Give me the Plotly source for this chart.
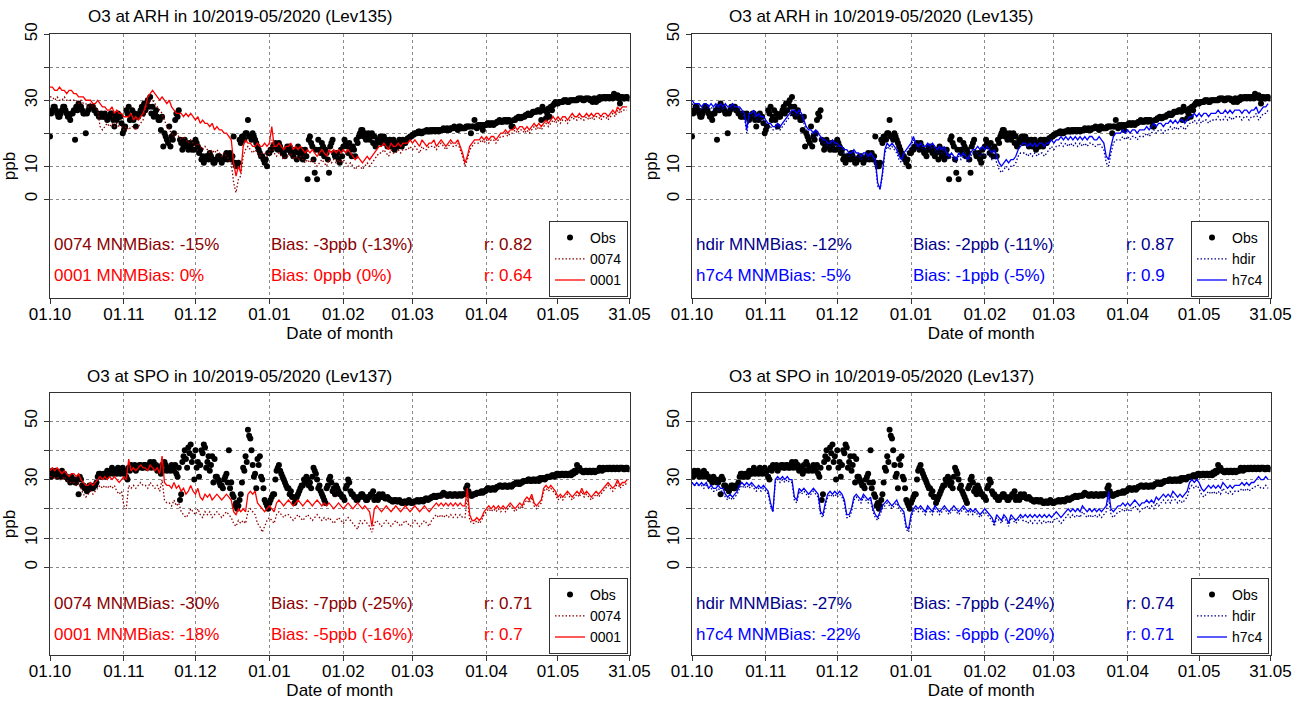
import plotly.graph_objects as go
import pandas as pd

# ---------------- data (daily values, 01.10.2019 .. 30.05.2020) ----------------
start_date = "2019-10-01"
n_days = 243
tick_dates = ["2019-10-01", "2019-11-01", "2019-12-01", "2020-01-01", "2020-02-01",
              "2020-03-01", "2020-04-01", "2020-05-01", "2020-05-31"]
tick_labels = ["01.10", "01.11", "01.12", "01.01", "01.02", "01.03", "01.04", "01.05", "31.05"]

# ARH observations (00 and 12 UTC)
arh_obs00 = [19, 27, 28, 26, 25, 27, 28, 26, 25, 26,
             27, 28, 29, 28, 26, 20, 27, 28, 28, 27,
             26, 25, 25, 26, 24, 25, 26, 22, 24, 25,
             23, 21, 27, 28, 25, 24, 22, 25, 27, 26,
             27, 30, 31, 28, 26, 25, 24, 25, 20, 18,
             22, 19, 20, 26, 27, 17, 16, 17, 15, 16,
             17, 18, 16, 15, 13, 12, 13, 14, 12, 11,
             12, 13, 11, 12, 14, 13, 12, 19, 10, 11,
             17, 19, 20, 24, 19, 20, 18, 16, 14, 13,
             11, 10, 14, 15, 16, 16, 17, 15, 14, 15,
             15, 14, 13, 15, 16, 13, 12, 15, 6, 19,
             16, 8, 6, 15, 17, 13, 14, 8, 17, 14,
             13, 12, 15, 16, 17, 14, 15, 16, 13, 17,
             20, 21, 20, 19, 18, 20, 19, 17, 18, 17,
             19, 18, 17, 16, 18, 17, 16, 17, 18, 17,
             18.5, 19, 19.5, 20, 20, 20.5, 20, 20.5, 21, 20.5,
             20.5, 21, 21, 20.5, 21, 21.5, 21, 21, 21.5, 21.5,
             21.5, 21, 22, 21.5, 21.5, 22, 22, 22, 24, 21.5,
             22, 22.5, 22.5, 22.5, 23, 23, 22.5, 23, 23.5, 23.5,
             23.5, 24, 24, 23.5, 22, 24, 24.5, 24.5, 25, 25,
             25.5, 25.5, 26, 26.5, 26.5, 27, 24, 27, 24.5, 27.5,
             28, 28.5, 29.5, 29, 29.5, 29.5, 30, 29.5, 30, 30,
             30, 30, 30.5, 30.5, 30, 30.5, 30.5, 30, 30.5, 29.5,
             30, 30.5, 31, 30.5, 31, 31, 30.5, 31, 31.5, 29,
             31, 30.5, 31]
arh_obs12 = [26, 28, 27, 25, 26, 28, 27, 25, 24, 26,
             18, 27, 28, 27, 26, 26, 28, 28, 27, 26,
             25, 26, 25, 25, 25, 26, 24, 25, 26, 25,
             20, 22, 26, 24, 27, 26, 25, 26, 28, 29,
             29, 28, 26, 25, 27, 24, 21, 16, 19, 17,
             16, 18, 24, 25, 18, 15, 18, 16, 17, 15,
             15, 17, 14, 12, 11, 13, 12, 13, 11, 12,
             13, 12, 12, 13, 12, 14, 13, 11, 10, 18,
             19, 18, 20, 19, 18, 19, 17, 15, 13, 12,
             12, 14, 15, 16, 17, 15, 16, 14, 13, 16,
             16, 15, 14, 12, 14, 15, 14, 13, 18, 17,
             12, 15, 18, 14, 16, 15, 12, 16, 18, 13,
             14, 11, 13, 18, 16, 17, 13, 15, 18, 19,
             21, 19, 18, 20, 19, 17, 16, 18, 19, 18,
             17, 16, 18, 17, 15, 16, 18, 16, 17, 18,
             18.5, 19, 19.5, 20, 20.5, 20, 20.5, 20.5, 20.5, 21,
             21, 20.5, 21, 21, 21, 21, 21.5, 21, 21.5, 22,
             21.5, 22, 21.5, 21.5, 22, 22, 20, 22, 22, 22.5,
             22.5, 21, 22.5, 23, 22.5, 23, 23, 23.5, 24, 23.5,
             24, 23.5, 24, 22, 24, 24.5, 25, 24.5, 25, 25.5,
             26, 25.5, 26.5, 26.5, 27, 26.5, 28, 27, 26, 25,
             27, 29, 29, 29.5, 29.5, 30, 30, 29.5, 30, 30,
             30, 30.5, 30.5, 30, 30.5, 30.5, 30, 29.5, 30.5, 30.5,
             31, 30.5, 31, 31, 30.5, 31, 32, 31, 30.5, 31,
             30.5, 31, 30.5]

arh_0001 = [34, 34, 33, 33, 34, 33, 33, 32, 33, 33,
            32, 32, 31, 31, 31, 30, 30, 30, 29, 29,
            30, 29, 28, 28, 27, 27, 28, 26, 27, 26,
            26, 25, 25, 25, 26, 24, 25, 24, 25, 26,
            28, 31, 32, 33, 32, 31, 30, 31, 30, 29,
            30, 28, 27, 26, 26, 26, 25, 26, 25, 26,
            25, 24, 25, 23, 24, 23, 23, 22, 23, 21,
            22, 21, 21, 20, 20, 19, 18, 11, 7, 10,
            8, 16, 18, 17, 17, 16, 16, 17, 16, 16,
            17, 16, 17, 22, 16, 16, 17, 16, 15, 16,
            16, 17, 15, 16, 15, 16, 15, 14, 15, 14,
            15, 14, 13, 14, 15, 14, 13, 15, 14, 15,
            14, 15, 14, 15, 14, 15, 14, 13, 12, 13,
            12, 11, 12, 13, 12, 13, 14, 15, 16, 16,
            17, 16, 15, 17, 16, 16, 17, 16, 17, 17,
            17, 18, 17, 18, 17, 16, 18, 17, 16, 17,
            17, 18, 16, 17, 18, 17, 16, 17, 18, 17,
            17, 18, 16, 14, 11, 13, 16, 17, 18, 18,
            18, 19, 18, 19, 18, 19, 19, 18, 19, 20,
            20, 21, 20, 21, 21, 22, 21, 22, 22, 21,
            22, 21, 22, 23, 22, 23, 22, 23, 24, 23,
            24, 25, 24, 25, 24, 25, 25, 24, 25, 26,
            25, 25, 26, 25, 25, 26, 25, 26, 25, 26,
            26, 25, 26, 26, 25, 26, 27, 26, 28, 27,
            28, 28, 28]
arh_0074 = [31, 31, 30, 31, 30, 30, 31, 30, 30, 30,
            30, 30, 29, 30, 29, 29, 28, 29, 28, 28,
            27, 22, 21, 22, 23, 22, 23, 22, 23, 22,
            22, 21, 22, 21, 22, 22, 21, 22, 23, 24,
            27, 29, 30, 30, 29, 28, 27, 26, 24, 22,
            21, 20, 19, 20, 19, 18, 19, 18, 17, 18,
            17, 16, 17, 16, 15, 16, 15, 14, 15, 14,
            15, 14, 13, 14, 13, 12, 11, 5, 2, 6,
            7, 13, 15, 16, 15, 14, 15, 14, 13, 14,
            14, 13, 14, 18, 14, 13, 14, 13, 12, 13,
            13, 14, 12, 13, 12, 13, 12, 11, 12, 11,
            12, 11, 10, 11, 12, 11, 10, 12, 11, 12,
            11, 12, 11, 12, 11, 10, 11, 10, 9, 10,
            10, 9, 10, 11, 10, 11, 12, 13, 14, 14,
            15, 14, 13, 15, 14, 14, 15, 14, 15, 15,
            15, 16, 15, 16, 15, 14, 16, 15, 15, 16,
            16, 16, 15, 16, 17, 16, 15, 16, 17, 16,
            16, 17, 15, 13, 10, 12, 15, 16, 17, 17,
            17, 18, 17, 18, 17, 18, 18, 17, 18, 19,
            19, 20, 19, 20, 20, 21, 20, 21, 21, 20,
            21, 20, 21, 22, 21, 22, 21, 22, 23, 22,
            23, 24, 23, 24, 23, 24, 24, 23, 24, 25,
            24, 24, 25, 24, 24, 25, 24, 25, 24, 25,
            25, 24, 25, 25, 24, 25, 26, 25, 27, 26,
            27, 27, 27]
arh_h7c4 = [30, 29, 29, 29, 28, 29, 29, 28, 29, 28,
            29, 28, 29, 28, 29, 28, 28, 29, 28, 28,
            28, 27, 26, 21, 26, 26, 27, 25, 26, 25,
            25, 24, 23, 23, 22, 22, 23, 22, 23, 24,
            25, 26, 27, 27, 26, 27, 26, 24, 22, 21,
            21, 20, 21, 20, 19, 18, 18, 17, 17, 18,
            17, 17, 16, 16, 15, 15, 14, 14, 15, 14,
            14, 13, 14, 14, 13, 14, 13, 12, 5, 3,
            8, 15, 17, 16, 17, 16, 15, 13, 12, 14,
            15, 16, 17, 19, 17, 16, 17, 16, 16, 17,
            16, 17, 16, 15, 16, 15, 16, 14, 13, 14,
            13, 12, 14, 13, 14, 13, 12, 14, 15, 15,
            16, 15, 16, 15, 16, 15, 14, 15, 13, 11,
            10, 11, 12, 11, 12, 12, 13, 15, 16, 17,
            17, 16, 17, 16, 17, 16, 17, 17, 16, 17,
            17, 18, 17, 18, 18, 19, 18, 19, 18, 19,
            18, 19, 18, 19, 18, 19, 18, 19, 19, 18,
            18, 19, 18, 17, 13, 12, 16, 19, 20, 20,
            20, 21, 20, 21, 20, 21, 21, 20, 21, 21,
            21, 22, 21, 22, 23, 22, 23, 23, 22, 23,
            23, 24, 23, 24, 23, 24, 24, 23, 24, 25,
            25, 26, 25, 26, 25, 26, 26, 25, 26, 26,
            26, 27, 26, 26, 27, 26, 27, 26, 27, 27,
            27, 26, 27, 27, 26, 27, 27, 28, 26, 27,
            28, 28, 29]
arh_hdir = [29, 28, 28, 28, 27, 28, 28, 27, 28, 27,
            28, 27, 28, 27, 28, 27, 27, 28, 27, 27,
            27, 26, 25, 20, 25, 25, 26, 24, 25, 24,
            24, 23, 22, 22, 21, 21, 22, 21, 22, 23,
            24, 25, 26, 26, 25, 26, 25, 23, 21, 20,
            20, 19, 20, 19, 18, 17, 17, 16, 16, 17,
            16, 16, 15, 15, 14, 14, 13, 13, 14, 13,
            13, 12, 13, 13, 12, 13, 12, 11, 4, 3,
            7, 14, 16, 15, 16, 15, 14, 12, 11, 13,
            14, 15, 16, 18, 16, 15, 16, 15, 15, 16,
            15, 16, 15, 14, 15, 14, 15, 13, 12, 13,
            12, 11, 13, 12, 13, 12, 11, 13, 14, 14,
            14, 13, 14, 13, 14, 13, 12, 13, 11, 9,
            8, 9, 10, 9, 10, 10, 11, 13, 14, 14,
            14, 13, 14, 13, 14, 13, 14, 14, 13, 14,
            15, 16, 15, 16, 16, 17, 16, 17, 16, 17,
            16, 17, 16, 17, 16, 17, 16, 17, 17, 16,
            16, 17, 16, 15, 11, 10, 14, 17, 18, 18,
            18, 19, 18, 19, 18, 19, 19, 18, 19, 19,
            19, 20, 19, 20, 21, 20, 21, 21, 20, 21,
            21, 22, 21, 22, 21, 22, 22, 21, 22, 23,
            23, 24, 23, 24, 23, 24, 24, 23, 24, 24,
            24, 25, 24, 24, 25, 24, 25, 24, 25, 25,
            25, 24, 25, 25, 24, 25, 25, 26, 24, 25,
            26, 26, 27]

# SPO observations (00 and 12 UTC)
spo_obs00 = [32, 33, 32, 31, 32, 33, 32, 31, 30, 31,
             30, 29, 25, 30, 28, 27, 27, 28, 27, 28,
             31, 32, 31, 32, 33, 32, 34, 33, 32, 33,
             33, 32, 31, 34, 35, 34, 33, 34, 35, 34,
             35, 34, 36, 35, 34, 33, 34, 35, 36, 33,
             34, 35, 33, 32, 34, 25, 38, 37, 41, 42,
             38, 40, 36, 35, 39, 41, 36, 33, 38, 37,
             31, 29, 28, 30, 32, 40, 29, 24, 22, 21,
             25, 34, 38, 47, 44, 35, 32, 37, 38, 30,
             23, 21, 22, 24, 25, 33, 35, 32, 30, 28,
             27, 26, 24, 23, 25, 27, 28, 29, 30, 29,
             31, 33, 30, 28, 25, 23, 27, 30, 29, 27,
             28, 26, 25, 24, 27, 30, 26, 25, 24, 23,
             24, 25, 24, 23, 24, 25, 23, 24, 25, 24,
             24, 23.5, 23.5, 23, 22.5, 23, 22.5, 22.5, 22, 22.5,
             22.5, 22.5, 22, 22.5, 23, 22.5, 23, 23, 23.5, 23.5,
             24, 24.5, 24, 24.5, 24.5, 25.5, 25, 24.5, 25, 24.5,
             25, 24.5, 25, 25, 25, 28, 25, 24.5, 25, 25.5,
             25.5, 26, 26, 26.5, 27, 26.5, 27, 27, 27.5, 28,
             27.5, 28, 27.5, 28, 28, 28.5, 29, 28.5, 29, 29.5,
             29.5, 30, 29.5, 30, 30, 29.5, 30, 30.5, 30.5, 31,
             31, 31.5, 31.5, 32, 31.5, 32, 32, 31.5, 32, 32.5,
             33, 35, 34, 33, 32.5, 33, 33, 32.5, 33, 33,
             33, 33.5, 34, 33.5, 33.5, 34, 34, 33.5, 34, 34,
             34, 33.5, 34]
spo_obs12 = [31, 32, 33, 32, 31, 32, 31, 30, 29, 30,
             29, 30, 31, 28, 27, 26, 28, 27, 28, 29,
             32, 31, 32, 31, 32, 33, 32, 33, 34, 32,
             34, 33, 30, 33, 34, 35, 34, 35, 34, 35,
             34, 35, 34, 36, 35, 34, 32, 33, 35, 34,
             33, 34, 35, 31, 23, 36, 40, 34, 39, 36,
             30, 34, 31, 40, 42, 34, 38, 35, 29, 31,
             30, 28, 27, 31, 29, 27, 25, 21, 20, 23,
             29, 33, 36, 45, 40, 31, 27, 35, 31, 27,
             22, 20, 23, 25, 30, 34, 33, 31, 29, 27,
             25, 24, 22, 24, 26, 28, 30, 31, 28, 27,
             34, 32, 27, 26, 24, 22, 28, 31, 26, 25,
             27, 25, 24, 23, 28, 29, 25, 24, 23, 24,
             25, 24, 23, 24, 25, 26, 24, 23, 24, 25,
             23.5, 24, 23, 22.5, 23, 22.5, 23, 22, 22.5, 22,
             23, 22, 22.5, 22.5, 22.5, 23, 22.5, 23.5, 23, 23.5,
             24, 24, 24.5, 24.5, 25, 25, 24.5, 25, 24.5, 25,
             24.5, 25, 24.5, 25, 27, 26, 24.5, 25, 25, 25.5,
             25.5, 25.5, 26, 27, 26.5, 27, 26.5, 27.5, 28, 27.5,
             28, 27.5, 28, 27.5, 28.5, 29, 28.5, 29, 29.5, 29.5,
             30, 29.5, 30, 29.5, 30, 30.5, 30.5, 30, 31, 31,
             31.5, 31, 32, 31.5, 32, 31.5, 32, 32, 31.5, 32,
             32.5, 34, 33, 32.5, 33, 32.5, 33, 33, 32.5, 33,
             34, 33, 33.5, 34, 34, 33.5, 34, 34, 33.5, 34,
             33.5, 34, 33.5]

spo_0001 = [33, 34, 33, 34, 33, 32, 33, 32, 31, 32,
            32, 31, 32, 30, 29, 28, 28, 29, 28, 29,
            30, 31, 30, 31, 30, 31, 30, 31, 30, 29,
            30, 31, 30, 37, 33, 34, 33, 34, 35, 34,
            34, 33, 35, 34, 33, 34, 32, 38, 29, 28,
            28, 27, 29, 27, 28, 26, 27, 25, 26, 28,
            26, 25, 27, 24, 23, 25, 24, 25, 23, 24,
            25, 24, 23, 24, 25, 24, 23, 19, 18, 20,
            19, 20, 19, 25, 26, 25, 26, 22, 21, 20,
            19, 20, 21, 20, 19, 22, 23, 22, 21, 22,
            23, 22, 21, 22, 23, 22, 21, 22, 23, 22,
            21, 22, 23, 22, 21, 22, 21, 22, 21, 20,
            21, 22, 21, 20, 21, 22, 21, 20, 21, 22,
            21, 20, 21, 20, 19, 14, 20, 21, 20, 19,
            20, 21, 20, 19, 20, 21, 20, 19, 20, 21,
            20, 19, 20, 21, 20, 19, 20, 21, 20, 19,
            20, 21, 22, 21, 22, 21, 22, 21, 22, 21,
            22, 21, 22, 21, 21, 27, 18, 16, 16, 17,
            16, 17, 19, 20, 21, 20, 21, 20, 21, 20,
            21, 20, 21, 22, 21, 20, 21, 22, 21, 23,
            24, 23, 25, 22, 21, 22, 23, 27, 28, 27,
            28, 27, 26, 24, 25, 24, 25, 26, 25, 24,
            25, 26, 25, 27, 25, 26, 25, 24, 25, 26,
            25, 26, 27, 28, 29, 28, 27, 28, 30, 28,
            29, 29, 30]
spo_0074 = [31, 31, 30, 31, 30, 30, 31, 30, 29, 29,
            29, 28, 29, 27, 25, 24, 25, 26, 25, 26,
            27, 28, 27, 28, 27, 28, 27, 28, 26, 25,
            26, 21, 20, 28, 27, 28, 27, 28, 29, 28,
            28, 27, 29, 28, 27, 28, 26, 30, 23, 22,
            22, 21, 23, 21, 22, 19, 18, 17, 18, 20,
            19, 18, 20, 18, 17, 19, 18, 19, 17, 18,
            19, 18, 17, 18, 19, 18, 17, 15, 14, 16,
            15, 16, 15, 19, 20, 19, 18, 15, 14, 12,
            14, 16, 17, 16, 15, 18, 19, 18, 17, 18,
            18, 17, 16, 17, 18, 17, 16, 17, 18, 17,
            16, 17, 18, 17, 16, 17, 16, 17, 16, 15,
            16, 17, 16, 15, 16, 17, 16, 15, 14, 13,
            16, 15, 16, 15, 14, 12, 15, 16, 15, 14,
            15, 16, 15, 14, 15, 16, 15, 14, 15, 16,
            15, 14, 15, 16, 15, 14, 15, 16, 15, 14,
            16, 17, 18, 17, 18, 17, 18, 17, 18, 17,
            18, 17, 18, 17, 17, 24, 16, 15, 15, 16,
            15, 16, 18, 19, 20, 19, 20, 19, 20, 19,
            20, 19, 20, 21, 20, 19, 20, 21, 20, 22,
            23, 22, 24, 21, 20, 21, 22, 26, 27, 26,
            27, 26, 25, 23, 24, 23, 24, 25, 24, 23,
            24, 25, 24, 26, 24, 25, 24, 23, 24, 25,
            24, 25, 26, 27, 28, 27, 26, 27, 29, 27,
            28, 28, 29]
spo_h7c4 = [29, 28, 29, 28, 29, 28, 29, 27, 28, 27,
            27, 28, 27, 27, 25, 24, 25, 24, 25, 26,
            28, 29, 28, 29, 28, 29, 28, 27, 28, 27,
            28, 27, 26, 22, 19, 30, 31, 30, 31, 30,
            31, 30, 30, 24, 23, 27, 26, 27, 26, 25,
            26, 27, 26, 25, 19, 18, 22, 25, 26, 25,
            26, 25, 26, 25, 23, 18, 18, 20, 24, 25,
            24, 23, 25, 24, 23, 24, 20, 18, 17, 19,
            21, 22, 23, 22, 21, 22, 23, 21, 20, 19,
            14, 13, 18, 20, 21, 20, 21, 20, 19, 21,
            20, 19, 21, 20, 19, 20, 21, 20, 19, 20,
            21, 20, 19, 20, 21, 20, 19, 20, 19, 20,
            19, 18, 19, 20, 19, 18, 17, 15, 18, 17,
            16, 18, 17, 15, 18, 17, 16, 17, 18, 17,
            18, 17, 18, 17, 18, 17, 18, 17, 18, 17,
            18, 17, 18, 19, 18, 17, 18, 19, 20, 19,
            20, 19, 20, 19, 21, 20, 19, 20, 19, 20,
            19, 20, 19, 20, 21, 26, 20, 19, 20, 21,
            21, 22, 21, 22, 21, 22, 23, 22, 21, 22,
            22, 23, 22, 23, 22, 24, 23, 24, 25, 24,
            25, 24, 26, 25, 24, 25, 24, 25, 26, 29,
            30, 29, 30, 29, 27, 26, 27, 28, 27, 28,
            27, 28, 27, 29, 28, 27, 28, 27, 28, 28,
            28, 29, 28, 29, 28, 29, 29, 30, 31, 30,
            30, 31, 30]
spo_hdir = [29, 28, 28, 28, 28, 27, 28, 27, 27, 26,
            26, 27, 26, 26, 24, 23, 24, 23, 24, 25,
            27, 28, 27, 28, 27, 28, 27, 26, 27, 26,
            27, 26, 25, 21, 19, 29, 30, 29, 30, 29,
            30, 29, 29, 23, 22, 26, 25, 26, 25, 24,
            25, 26, 25, 24, 18, 17, 21, 24, 25, 24,
            25, 24, 25, 24, 22, 17, 17, 19, 23, 24,
            23, 22, 24, 23, 22, 23, 19, 17, 16, 18,
            20, 21, 22, 21, 20, 21, 22, 20, 19, 18,
            13, 12, 17, 19, 20, 19, 20, 19, 18, 20,
            19, 18, 20, 19, 18, 19, 20, 19, 18, 19,
            20, 19, 18, 19, 20, 19, 18, 19, 18, 19,
            18, 17, 18, 19, 18, 17, 16, 14, 17, 16,
            15, 17, 16, 14, 17, 16, 15, 16, 17, 16,
            16, 15, 16, 15, 16, 15, 16, 15, 16, 15,
            16, 15, 16, 17, 16, 15, 16, 17, 18, 17,
            18, 17, 18, 17, 19, 18, 17, 18, 17, 18,
            17, 18, 17, 18, 19, 24, 18, 17, 18, 19,
            19, 20, 19, 20, 19, 20, 21, 20, 19, 20,
            20, 21, 20, 21, 20, 22, 21, 22, 23, 22,
            23, 22, 24, 23, 22, 23, 22, 23, 24, 27,
            28, 27, 28, 27, 25, 24, 25, 26, 25, 26,
            25, 26, 25, 27, 26, 25, 26, 25, 26, 26,
            26, 27, 26, 27, 26, 27, 27, 28, 28, 27,
            27, 28, 27]

# statistics text (model, MNMBias, Bias, r)
stats_arh_red = [("0074", "-15%", "-3ppb (-13%)", "0.82"), ("0001", "0%", "0ppb (0%)", "0.64")]
stats_arh_blue = [("hdir", "-12%", "-2ppb (-11%)", "0.87"), ("h7c4", "-5%", "-1ppb (-5%)", "0.9")]
stats_spo_red = [("0074", "-30%", "-7ppb (-25%)", "0.71"), ("0001", "-18%", "-5ppb (-16%)", "0.7")]
stats_spo_blue = [("hdir", "-27%", "-7ppb (-24%)", "0.74"), ("h7c4", "-22%", "-6ppb (-20%)", "0.71")]

# ---------------- figure ----------------
W, H = 1301, 702
FONT = "Liberation Sans, Arial, sans-serif"
FS = 17
days = pd.date_range(start_date, periods=n_days, freq="D")
days12 = days + pd.Timedelta(hours=12)

def px(x):
    return x / W

def py(y):
    return 1 - y / H

panels = [
    dict(ax=1, title="O3 at ARH in 10/2019-05/2020 (Lev135)", obs=(arh_obs00, arh_obs12),
         models=[("0074", arh_0074, "darkred", "dot"), ("0001", arh_0001, "red", "solid")],
         stats=stats_arh_red, x0=50, x1=629.5, y0=34, y1=298, yr=[-30, 50.1]),
    dict(ax=2, title="O3 at ARH in 10/2019-05/2020 (Lev135)", obs=(arh_obs00, arh_obs12),
         models=[("hdir", arh_hdir, "darkblue", "dot"), ("h7c4", arh_h7c4, "blue", "solid")],
         stats=stats_arh_blue, x0=692, x1=1270.5, y0=34, y1=298, yr=[-30, 50.1]),
    dict(ax=3, title="O3 at SPO in 10/2019-05/2020 (Lev137)", obs=(spo_obs00, spo_obs12),
         models=[("0074", spo_0074, "darkred", "dot"), ("0001", spo_0001, "red", "solid")],
         stats=stats_spo_red, x0=50, x1=629.5, y0=393, y1=655, yr=[-30, 59.6]),
    dict(ax=4, title="O3 at SPO in 10/2019-05/2020 (Lev137)", obs=(spo_obs00, spo_obs12),
         models=[("hdir", spo_hdir, "darkblue", "dot"), ("h7c4", spo_h7c4, "blue", "solid")],
         stats=stats_spo_blue, x0=692, x1=1270.5, y0=393, y1=655, yr=[-30, 59.6]),
]

fig = go.Figure()
annotations = []
layout = {}

for p in panels:
    k = p["ax"]
    sfx = "" if k == 1 else str(k)
    lg = "legend" if k == 1 else "legend" + str(k)
    xa, ya = "x" + sfx, "y" + sfx
    o00, o12 = p["obs"]
    fig.add_trace(go.Scatter(
        x=list(days) + list(days12), y=o00 + o12, mode="markers", name="Obs",
        marker=dict(color="black", size=6), xaxis=xa, yaxis=ya, legend=lg))
    for name, vals, col, dash in p["models"]:
        fig.add_trace(go.Scatter(
            x=days, y=vals, mode="lines", name=name,
            line=dict(color=col, width=1.3, dash="1.5px,2px" if dash == "dot" else "solid"),
            xaxis=xa, yaxis=ya, legend=lg))

    layout["xaxis" + sfx] = dict(
        domain=[px(p["x0"]), px(p["x1"])], anchor=ya, automargin=False,
        range=[start_date, tick_dates[-1]], tickvals=tick_dates, ticktext=tick_labels,
        ticks="outside", ticklen=5, tickcolor="#333", showline=True, mirror=True,
        linecolor="#333", linewidth=1, showgrid=True, gridcolor="#8a8a8a",
        griddash="dot", gridwidth=1, tickfont=dict(size=FS, color="black"),
        ticklabelstandoff=-4,
        title=dict(text="Date of month", font=dict(size=FS, color="black"), standoff=2),
        zeroline=False)
    layout["yaxis" + sfx] = dict(
        domain=[py(p["y1"]), py(p["y0"])], anchor=xa, range=p["yr"], automargin=False,
        tickvals=[0, 10, 20, 30, 40, 50], ticktext=["0", "10", "", "30", "", "50"],
        tickangle=-90, ticks="outside", ticklen=5, tickcolor="#333",
        showline=True, mirror=True, linecolor="#333", linewidth=1,
        showgrid=True, gridcolor="#8a8a8a", griddash="dot", gridwidth=1,
        tickfont=dict(size=FS, color="black"), zeroline=False,
        title=dict(text="ppb", font=dict(size=FS, color="black"), standoff=2))
    layout[lg] = dict(
        x=px(p["x1"] - 1.5), y=py(p["y1"] - 1), xanchor="right", yanchor="bottom",
        bgcolor="white", bordercolor="#333", borderwidth=1,
        font=dict(size=14, color="black", family=FONT), itemwidth=30,
        tracegroupgap=0)

    annotations.append(dict(
        x=px((p["x0"] + p["x1"]) / 2 - 100), y=py(p["y0"] - 17), xref="paper", yref="paper",
        text=p["title"], showarrow=False, xanchor="center", yanchor="middle",
        font=dict(size=FS, color="black")))
    for i, (mname, mnmb, bias, r) in enumerate(p["stats"]):
        col = p["models"][i][2]
        yy = p["y0"] + 210 + 31 * i
        for dx, txt in [(2, f"{mname} MNMBias: {mnmb}"), (219, f"Bias: {bias}"), (432, f"r: {r}")]:
            annotations.append(dict(
                x=px(p["x0"] + dx), y=py(yy), xref="paper", yref="paper", text=txt,
                showarrow=False, xanchor="left", yanchor="middle",
                font=dict(size=FS, color=col)))

fig.update_layout(
    width=W, height=H, margin=dict(l=0, r=0, t=0, b=0, autoexpand=False),
    paper_bgcolor="white", plot_bgcolor="white",
    font=dict(family=FONT, size=FS, color="black"),
    annotations=annotations, **layout)

fig.write_html("out.html")
